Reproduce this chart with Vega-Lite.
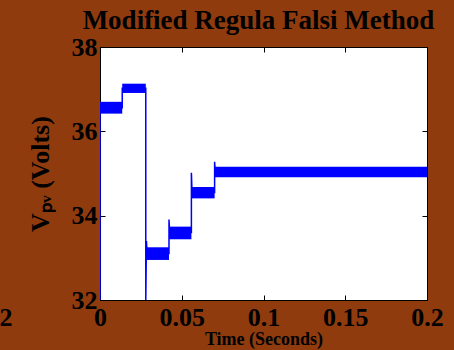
{
  "$schema": "https://vega.github.io/schema/vega-lite/v6.json",
  "width": 327,
  "height": 253,
  "autosize": {"type": "none"},
  "padding": {"left": 100, "top": 47, "right": 27, "bottom": 50},
  "background": "#8F3B0E",
  "config": {
    "view": {"fill": "white", "stroke": "black", "strokeWidth": 1},
    "font": "Liberation Serif",
    "axis": {
      "labelFont": "Liberation Serif",
      "labelFontWeight": "bold",
      "labelFontSize": 26,
      "labelColor": "black",
      "titleFont": "Liberation Serif",
      "titleFontWeight": "bold",
      "titleColor": "black",
      "domainColor": "black",
      "tickColor": "black",
      "grid": false,
      "labelOverlap": false,
      "labelFlush": false
    }
  },
  "title": {
    "text": "Modified Regula Falsi Method",
    "font": "Liberation Serif",
    "fontSize": 27,
    "fontWeight": "bold",
    "color": "black",
    "anchor": "middle",
    "frame": "group",
    "offset": -1,
    "dx": -5
  },
  "datasets": {
    "bands": [
      {"t0": 0, "t1": 0.0136, "vlo": 36.42, "vhi": 36.7},
      {"t0": 0.0136, "t1": 0.028, "vlo": 36.91, "vhi": 37.13},
      {"t0": 0.028, "t1": 0.0422, "vlo": 32.95, "vhi": 33.25},
      {"t0": 0.0422, "t1": 0.0559, "vlo": 33.44, "vhi": 33.74},
      {"t0": 0.0559, "t1": 0.0701, "vlo": 34.41, "vhi": 34.68},
      {"t0": 0.0701, "t1": 0.2, "vlo": 34.91, "vhi": 35.16}
    ],
    "path": [
      {"i": 0, "t": 0, "v": 32},
      {"i": 1, "t": 0, "v": 36.56},
      {"i": 2, "t": 0.0136, "v": 36.56},
      {"i": 3, "t": 0.0136, "v": 37.02},
      {"i": 4, "t": 0.028, "v": 37.02},
      {"i": 5, "t": 0.028, "v": 32},
      {"i": 6, "t": 0.0284, "v": 33.4},
      {"i": 7, "t": 0.0288, "v": 33.1},
      {"i": 8, "t": 0.0422, "v": 33.1},
      {"i": 9, "t": 0.0422, "v": 33.91},
      {"i": 10, "t": 0.0426, "v": 33.6},
      {"i": 11, "t": 0.0559, "v": 33.6},
      {"i": 12, "t": 0.0559, "v": 35.02},
      {"i": 13, "t": 0.0563, "v": 34.55},
      {"i": 14, "t": 0.0701, "v": 34.55},
      {"i": 15, "t": 0.0701, "v": 35.28},
      {"i": 16, "t": 0.0705, "v": 35.03},
      {"i": 17, "t": 0.2, "v": 35.03}
    ],
    "stray": [
      {"t": -0.0575, "v": 31.88, "label": "2"}
    ]
  },
  "layer": [
    {
      "data": {"name": "bands"},
      "mark": {"type": "rect", "color": "#0000FF"},
      "encoding": {
        "x": {
          "field": "t0", "type": "quantitative",
          "scale": {"domain": [0, 0.2], "nice": false},
          "axis": {
            "title": "Time (Seconds)",
            "titleFontSize": 18,
            "values": [0, 0.05, 0.1, 0.15, 0.2],
            "format": "~g",
            "tickSize": -5,
            "labelPadding": 9,
            "titlePadding": 0
          }
        },
        "x2": {"field": "t1"},
        "y": {
          "field": "vlo", "type": "quantitative",
          "scale": {"domain": [32, 38], "nice": false, "zero": false},
          "axis": {
            "title": "Vₚᵥ (Volts)",
            "titleFontSize": 26,
            "values": [32, 34, 36, 38],
            "format": "d",
            "tickSize": -5,
            "labelPadding": 8,
            "titlePadding": 18
          }
        },
        "y2": {"field": "vhi"}
      }
    },
    {
      "data": {"name": "path"},
      "mark": {"type": "line", "color": "#0000FF", "strokeWidth": 1.5, "clip": true},
      "encoding": {
        "x": {
          "field": "t", "type": "quantitative",
          "axis": {"orient": "top", "values": [0, 0.05, 0.1, 0.15, 0.2], "labels": false, "title": null, "tickSize": -5, "domain": false}
        },
        "y": {
          "field": "v", "type": "quantitative",
          "axis": {"orient": "right", "values": [32, 34, 36, 38], "labels": false, "title": null, "tickSize": -5, "domain": false}
        },
        "order": {"field": "i"}
      }
    },
    {
      "data": {"name": "stray"},
      "mark": {"type": "text", "font": "Liberation Serif", "fontSize": 26, "fontWeight": "bold", "color": "black", "baseline": "top", "align": "center"},
      "encoding": {
        "x": {"field": "t", "type": "quantitative", "axis": null},
        "y": {"field": "v", "type": "quantitative", "axis": null},
        "text": {"field": "label"}
      }
    }
  ],
  "resolve": {"axis": {"x": "independent", "y": "independent"}}
}
